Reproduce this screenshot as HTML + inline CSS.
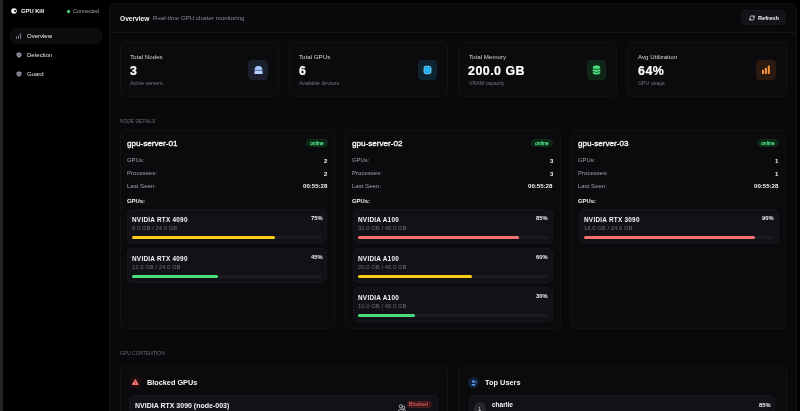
<!DOCTYPE html>
<html><head><meta charset="utf-8"><title>GPU Kill</title>
<style>
html,body{margin:0;padding:0;overflow:hidden;background:#000000;}
body{width:800px;height:411px;font-family:"Liberation Sans", sans-serif;}
#root{position:relative;width:800px;height:411px;overflow:hidden;background:#000000;}
.t{position:absolute;line-height:1;white-space:nowrap;-webkit-font-smoothing:antialiased;will-change:transform;}
.r{position:absolute;}
svg.r{overflow:visible;}
</style></head><body><div id="root">
<div class="r" style="left:0.00px;top:0.00px;width:3.10px;height:411.00px;background:#212327;border-radius:0px;"></div>
<svg class="r" style="left:11px;top:8px" width="6" height="6" viewBox="0 0 6 6"><circle cx="3" cy="3" r="2.8" fill="#f4f4f5"/><circle cx="4.1" cy="3.1" r="1.0" fill="#000"/></svg>
<div class="t" style="left:21.00px;top:8.90px;font-size:5.8px;color:#f4f4f5;font-weight:700;">GPU Kill</div>
<div class="r" style="left:66.50px;top:9.50px;width:3.10px;height:3.10px;background:#4ade80;border-radius:2px;box-shadow:0 0 1.5px #22c55e80;"></div>
<div class="t" style="left:73.00px;top:9.20px;font-size:5.4px;color:#a1a1aa;font-weight:400;">Connected</div>
<div class="r" style="left:10.00px;top:28.30px;width:92.00px;height:16.10px;background:#0c0c0f;border:1px solid #0f0f12;box-sizing:border-box;border-radius:6px;"></div>
<div class="r" style="left:15.7px;top:35.6px;width:1.3px;height:3.1px;background:#7c7c86;border-radius:0.4px"></div><div class="r" style="left:17.75px;top:34.6px;width:1.3px;height:4.1px;background:#7c7c86;border-radius:0.4px"></div><div class="r" style="left:19.8px;top:33.3px;width:1.3px;height:5.4px;background:#7c7c86;border-radius:0.4px"></div>
<div class="t" style="left:27.00px;top:32.81px;font-size:6px;color:#f4f4f5;font-weight:400;">Overview</div>
<svg class="r" style="left:15.6px;top:51.80px" width="6" height="6" viewBox="0 0 6 6"><path d="M3 0.3 L5.5 1.2 L5.5 2.8 C5.5 4.4 4.3 5.3 3 5.8 C1.7 5.3 0.5 4.4 0.5 2.8 L0.5 1.2 Z" fill="#8b8f9a"/><circle cx="3" cy="2.8" r="0.9" fill="#5c6069"/></svg>
<svg class="r" style="left:15.6px;top:70.60px" width="6" height="6" viewBox="0 0 6 6"><path d="M3 0.3 L5.5 1.2 L5.5 2.8 C5.5 4.4 4.3 5.3 3 5.8 C1.7 5.3 0.5 4.4 0.5 2.8 L0.5 1.2 Z" fill="#8b8f9a"/><circle cx="3" cy="2.8" r="0.9" fill="#5c6069"/></svg>
<div class="t" style="left:27.00px;top:52.11px;font-size:6px;color:#e4e4e7;font-weight:400;">Detection</div>
<div class="t" style="left:27.00px;top:70.91px;font-size:6px;color:#e4e4e7;font-weight:400;">Guard</div>
<div class="r" style="left:109.30px;top:3.00px;width:687.90px;height:427.00px;background:#09090c;border:1px solid #111114;box-sizing:border-box;border-radius:5px;"></div>
<div class="t" style="left:119.90px;top:16.32px;font-size:6.6px;color:#f4f4f5;font-weight:700;">Overview</div>
<div class="t" style="left:153.00px;top:15.04px;font-size:6.15px;color:#8a8a93;font-weight:400;">Real-time GPU cluster monitoring</div>
<div class="r" style="left:110.00px;top:32.00px;width:686.00px;height:1.00px;background:#151518;border-radius:0px;"></div>
<div class="r" style="left:741.00px;top:10.30px;width:45.00px;height:15.00px;background:#131317;border:1px solid #18181c;box-sizing:border-box;border-radius:4.5px;"></div>
<svg class="r" style="left:748.6px;top:15.0px" width="6" height="6" viewBox="0 0 24 24" fill="none" stroke="#e4e4e7" stroke-width="3" stroke-linecap="round" stroke-linejoin="round"><path d="M3 12a9 9 0 0 1 9-9 9.75 9.75 0 0 1 6.74 2.74L21 8"/><path d="M21 3v5h-5"/><path d="M21 12a9 9 0 0 1-9 9 9.75 9.75 0 0 1-6.74-2.74L3 16"/><path d="M8 16H3v5"/></svg>
<div class="t" style="left:758.20px;top:15.50px;font-size:5.6px;color:#f4f4f5;font-weight:700;">Refresh</div>
<div class="r" style="left:119.50px;top:42.00px;width:159.25px;height:55.30px;background:#0b0b0e;border:1px solid #131316;box-sizing:border-box;border-radius:6px;"></div>
<div class="t" style="left:130.00px;top:54.31px;font-size:6.2px;color:#d4d4d8;font-weight:400;">Total Nodes</div>
<div class="t" style="left:129.80px;top:64.92px;font-size:12.4px;color:#ffffff;font-weight:700;letter-spacing:0.5px;-webkit-text-stroke:0.2px #fff;">3</div>
<div class="t" style="left:130.00px;top:80.59px;font-size:5.2px;color:#74747d;font-weight:400;">Active servers</div>
<div class="r" style="left:248.45px;top:60.00px;width:19.50px;height:19.60px;background:#1b1f2b;border-radius:4px;"></div>
<svg class="r" style="left:253.70px;top:65.00px" width="9" height="10" viewBox="0 0 9 10"><path d="M0.4 5.4 L1.2 2.6 Q1.8 1 3.4 1 H5.6 Q7.2 1 7.8 2.6 L8.6 5.4 Z" fill="#a3c4fb"/><rect x="0.4" y="6.1" width="8.2" height="3" rx="0.9" fill="#b4d0ff"/></svg>
<div class="r" style="left:288.75px;top:42.00px;width:159.25px;height:55.30px;background:#0b0b0e;border:1px solid #131316;box-sizing:border-box;border-radius:6px;"></div>
<div class="t" style="left:299.25px;top:54.31px;font-size:6.2px;color:#d4d4d8;font-weight:400;">Total GPUs</div>
<div class="t" style="left:299.05px;top:64.92px;font-size:12.4px;color:#ffffff;font-weight:700;letter-spacing:0.5px;-webkit-text-stroke:0.2px #fff;">6</div>
<div class="t" style="left:299.25px;top:80.59px;font-size:5.2px;color:#74747d;font-weight:400;">Available devices</div>
<div class="r" style="left:417.70px;top:60.00px;width:19.50px;height:19.60px;background:#0f2230;border-radius:4px;"></div>
<svg class="r" style="left:422.95px;top:65.00px" width="9" height="10" viewBox="0 0 9 10"><rect x="1.1" y="1.3" width="6.8" height="7.4" rx="1.7" fill="#0ea5e9" stroke="#7dd3fc" stroke-width="1.0"/><rect x="3.1" y="3.4" width="2.8" height="3.2" rx="0.6" fill="#38bdf8"/></svg>
<div class="r" style="left:458.00px;top:42.00px;width:159.25px;height:55.30px;background:#0b0b0e;border:1px solid #131316;box-sizing:border-box;border-radius:6px;"></div>
<div class="t" style="left:468.50px;top:54.31px;font-size:6.2px;color:#d4d4d8;font-weight:400;">Total Memory</div>
<div class="t" style="left:468.30px;top:64.92px;font-size:12.4px;color:#ffffff;font-weight:700;letter-spacing:0.5px;-webkit-text-stroke:0.2px #fff;">200.0 GB</div>
<div class="t" style="left:468.50px;top:80.59px;font-size:5.2px;color:#74747d;font-weight:400;">VRAM capacity</div>
<div class="r" style="left:586.95px;top:60.00px;width:19.50px;height:19.60px;background:#0f2618;border-radius:4px;"></div>
<svg class="r" style="left:592.20px;top:65.00px" width="9" height="10" viewBox="0 0 9 10"><rect x="0.8" y="0.4" width="7.4" height="9.2" rx="2.4" fill="#4ade80"/><path d="M0.8 3.6 Q4.5 5.6 8.2 3.6" stroke="#0f3d1f" stroke-width="0.9" fill="none"/><path d="M0.8 6.5 Q4.5 8.4 8.2 6.5" stroke="#0f3d1f" stroke-width="0.8" fill="none"/></svg>
<div class="r" style="left:627.25px;top:42.00px;width:159.25px;height:55.30px;background:#0b0b0e;border:1px solid #131316;box-sizing:border-box;border-radius:6px;"></div>
<div class="t" style="left:637.75px;top:54.31px;font-size:6.2px;color:#d4d4d8;font-weight:400;">Avg Utilization</div>
<div class="t" style="left:637.55px;top:64.92px;font-size:12.4px;color:#ffffff;font-weight:700;letter-spacing:0.5px;-webkit-text-stroke:0.2px #fff;">64%</div>
<div class="t" style="left:637.75px;top:80.59px;font-size:5.2px;color:#74747d;font-weight:400;">GPU usage</div>
<div class="r" style="left:756.20px;top:60.00px;width:19.50px;height:19.60px;background:#2a1a10;border-radius:4px;"></div>
<svg class="r" style="left:761.45px;top:65.00px" width="9" height="10" viewBox="0 0 9 10"><rect x="1" y="4.8" width="2" height="4.2" rx="0.5" fill="#fb923c"/><rect x="3.9" y="2.7" width="2" height="6.3" rx="0.5" fill="#fb923c"/><rect x="6.8" y="0.6" width="2" height="8.4" rx="0.5" fill="#fb923c"/></svg>
<div class="r" style="left:110.50px;top:107.00px;width:685.50px;height:1.00px;background:#0d0d10;border-radius:0px;"></div>
<div class="r" style="left:110.50px;top:337.80px;width:685.50px;height:1.00px;background:#0d0d10;border-radius:0px;"></div>
<div class="t" style="left:119.80px;top:119.61px;font-size:4.95px;color:#6b6b74;font-weight:400;letter-spacing:-0.05px;">NODE DETAILS</div>
<div class="r" style="left:119.50px;top:130.00px;width:215.67px;height:199.00px;background:#0b0b0e;border:1px solid #131316;box-sizing:border-box;border-radius:6px;"></div>
<div class="t" style="left:126.50px;top:140.10px;font-size:8.1px;color:#f4f4f5;font-weight:400;-webkit-text-stroke:0.35px #f4f4f5;">gpu-server-01</div>
<div class="r" style="left:305.77px;top:139.20px;width:22.00px;height:8.10px;background:#0c2415;border:1px solid #112e1a;box-sizing:border-box;border-radius:4px;"></div>
<div class="t" style="left:309.77px;top:140.94px;font-size:5.1px;color:#4ade80;font-weight:400;-webkit-text-stroke:0.25px #4ade80;">online</div>
<div class="t" style="left:126.70px;top:158.36px;font-size:5.9px;color:#a1a1aa;font-weight:400;">GPUs:</div>
<div class="t" style="right:472.83px;top:158.31px;font-size:6.0px;color:#f4f4f5;font-weight:700;">2</div>
<div class="t" style="left:126.70px;top:170.48px;font-size:6.05px;color:#a1a1aa;font-weight:400;">Processes:</div>
<div class="t" style="right:472.83px;top:170.51px;font-size:6.0px;color:#f4f4f5;font-weight:700;">2</div>
<div class="t" style="left:126.70px;top:183.28px;font-size:6.05px;color:#a1a1aa;font-weight:400;">Last Seen:</div>
<div class="t" style="right:472.83px;top:183.26px;font-size:6.1px;color:#f4f4f5;font-weight:700;">00:55:28</div>
<div class="t" style="left:126.70px;top:198.56px;font-size:5.9px;color:#f4f4f5;font-weight:700;">GPUs:</div>
<div class="r" style="left:127.30px;top:208.70px;width:199.97px;height:35.20px;background:#121216;border:1px solid #17171b;box-sizing:border-box;border-radius:5px;"></div>
<div class="t" style="left:132.20px;top:217.22px;font-size:6.4px;color:#f4f4f5;font-weight:700;letter-spacing:0.25px;">NVIDIA RTX 4090</div>
<div class="t" style="left:132.20px;top:225.53px;font-size:5.95px;color:#6a6a73;font-weight:400;">8.0 GB / 24.0 GB</div>
<div class="t" style="right:477.63px;top:215.70px;font-size:5.8px;color:#f4f4f5;font-weight:700;">75%</div>
<div class="r" style="left:132.20px;top:235.60px;width:190.17px;height:3.00px;background:#1a1a1f;border-radius:2px;"></div>
<div class="r" style="left:132.20px;top:235.60px;width:142.63px;height:3.00px;background:#facc15;border-radius:2px;"></div>
<div class="r" style="left:127.30px;top:247.80px;width:199.97px;height:35.20px;background:#121216;border:1px solid #17171b;box-sizing:border-box;border-radius:5px;"></div>
<div class="t" style="left:132.20px;top:256.32px;font-size:6.4px;color:#f4f4f5;font-weight:700;letter-spacing:0.25px;">NVIDIA RTX 4090</div>
<div class="t" style="left:132.20px;top:264.63px;font-size:5.95px;color:#6a6a73;font-weight:400;">12.0 GB / 24.0 GB</div>
<div class="t" style="right:477.63px;top:254.80px;font-size:5.8px;color:#f4f4f5;font-weight:700;">45%</div>
<div class="r" style="left:132.20px;top:274.70px;width:190.17px;height:3.00px;background:#1a1a1f;border-radius:2px;"></div>
<div class="r" style="left:132.20px;top:274.70px;width:85.57px;height:3.00px;background:#4ade80;border-radius:2px;"></div>
<div class="r" style="left:345.17px;top:130.00px;width:215.67px;height:199.00px;background:#0b0b0e;border:1px solid #131316;box-sizing:border-box;border-radius:6px;"></div>
<div class="t" style="left:352.17px;top:140.10px;font-size:8.1px;color:#f4f4f5;font-weight:400;-webkit-text-stroke:0.35px #f4f4f5;">gpu-server-02</div>
<div class="r" style="left:531.43px;top:139.20px;width:22.00px;height:8.10px;background:#0c2415;border:1px solid #112e1a;box-sizing:border-box;border-radius:4px;"></div>
<div class="t" style="left:535.43px;top:140.94px;font-size:5.1px;color:#4ade80;font-weight:400;-webkit-text-stroke:0.25px #4ade80;">online</div>
<div class="t" style="left:352.37px;top:158.36px;font-size:5.9px;color:#a1a1aa;font-weight:400;">GPUs:</div>
<div class="t" style="right:247.17px;top:158.31px;font-size:6.0px;color:#f4f4f5;font-weight:700;">3</div>
<div class="t" style="left:352.37px;top:170.48px;font-size:6.05px;color:#a1a1aa;font-weight:400;">Processes:</div>
<div class="t" style="right:247.17px;top:170.51px;font-size:6.0px;color:#f4f4f5;font-weight:700;">3</div>
<div class="t" style="left:352.37px;top:183.28px;font-size:6.05px;color:#a1a1aa;font-weight:400;">Last Seen:</div>
<div class="t" style="right:247.17px;top:183.26px;font-size:6.1px;color:#f4f4f5;font-weight:700;">00:55:28</div>
<div class="t" style="left:352.37px;top:198.56px;font-size:5.9px;color:#f4f4f5;font-weight:700;">GPUs:</div>
<div class="r" style="left:352.97px;top:208.70px;width:199.97px;height:35.20px;background:#121216;border:1px solid #17171b;box-sizing:border-box;border-radius:5px;"></div>
<div class="t" style="left:357.87px;top:217.22px;font-size:6.4px;color:#f4f4f5;font-weight:700;letter-spacing:0.25px;">NVIDIA A100</div>
<div class="t" style="left:357.87px;top:225.53px;font-size:5.95px;color:#6a6a73;font-weight:400;">32.0 GB / 40.0 GB</div>
<div class="t" style="right:251.97px;top:215.70px;font-size:5.8px;color:#f4f4f5;font-weight:700;">85%</div>
<div class="r" style="left:357.87px;top:235.60px;width:190.17px;height:3.00px;background:#1a1a1f;border-radius:2px;"></div>
<div class="r" style="left:357.87px;top:235.60px;width:161.64px;height:3.00px;background:#f87171;border-radius:2px;"></div>
<div class="r" style="left:352.97px;top:247.80px;width:199.97px;height:35.20px;background:#121216;border:1px solid #17171b;box-sizing:border-box;border-radius:5px;"></div>
<div class="t" style="left:357.87px;top:256.32px;font-size:6.4px;color:#f4f4f5;font-weight:700;letter-spacing:0.25px;">NVIDIA A100</div>
<div class="t" style="left:357.87px;top:264.63px;font-size:5.95px;color:#6a6a73;font-weight:400;">20.0 GB / 40.0 GB</div>
<div class="t" style="right:251.97px;top:254.80px;font-size:5.8px;color:#f4f4f5;font-weight:700;">60%</div>
<div class="r" style="left:357.87px;top:274.70px;width:190.17px;height:3.00px;background:#1a1a1f;border-radius:2px;"></div>
<div class="r" style="left:357.87px;top:274.70px;width:114.10px;height:3.00px;background:#facc15;border-radius:2px;"></div>
<div class="r" style="left:352.97px;top:286.90px;width:199.97px;height:35.20px;background:#121216;border:1px solid #17171b;box-sizing:border-box;border-radius:5px;"></div>
<div class="t" style="left:357.87px;top:295.42px;font-size:6.4px;color:#f4f4f5;font-weight:700;letter-spacing:0.25px;">NVIDIA A100</div>
<div class="t" style="left:357.87px;top:303.73px;font-size:5.95px;color:#6a6a73;font-weight:400;">10.0 GB / 40.0 GB</div>
<div class="t" style="right:251.97px;top:293.90px;font-size:5.8px;color:#f4f4f5;font-weight:700;">30%</div>
<div class="r" style="left:357.87px;top:313.80px;width:190.17px;height:3.00px;background:#1a1a1f;border-radius:2px;"></div>
<div class="r" style="left:357.87px;top:313.80px;width:57.05px;height:3.00px;background:#4ade80;border-radius:2px;"></div>
<div class="r" style="left:570.83px;top:130.00px;width:215.67px;height:199.00px;background:#0b0b0e;border:1px solid #131316;box-sizing:border-box;border-radius:6px;"></div>
<div class="t" style="left:577.83px;top:140.10px;font-size:8.1px;color:#f4f4f5;font-weight:400;-webkit-text-stroke:0.35px #f4f4f5;">gpu-server-03</div>
<div class="r" style="left:757.10px;top:139.20px;width:22.00px;height:8.10px;background:#0c2415;border:1px solid #112e1a;box-sizing:border-box;border-radius:4px;"></div>
<div class="t" style="left:761.10px;top:140.94px;font-size:5.1px;color:#4ade80;font-weight:400;-webkit-text-stroke:0.25px #4ade80;">online</div>
<div class="t" style="left:578.03px;top:158.36px;font-size:5.9px;color:#a1a1aa;font-weight:400;">GPUs:</div>
<div class="t" style="right:21.50px;top:158.31px;font-size:6.0px;color:#f4f4f5;font-weight:700;">1</div>
<div class="t" style="left:578.03px;top:170.48px;font-size:6.05px;color:#a1a1aa;font-weight:400;">Processes:</div>
<div class="t" style="right:21.50px;top:170.51px;font-size:6.0px;color:#f4f4f5;font-weight:700;">1</div>
<div class="t" style="left:578.03px;top:183.28px;font-size:6.05px;color:#a1a1aa;font-weight:400;">Last Seen:</div>
<div class="t" style="right:21.50px;top:183.26px;font-size:6.1px;color:#f4f4f5;font-weight:700;">00:55:28</div>
<div class="t" style="left:578.03px;top:198.56px;font-size:5.9px;color:#f4f4f5;font-weight:700;">GPUs:</div>
<div class="r" style="left:578.63px;top:208.70px;width:199.97px;height:35.20px;background:#121216;border:1px solid #17171b;box-sizing:border-box;border-radius:5px;"></div>
<div class="t" style="left:583.53px;top:217.22px;font-size:6.4px;color:#f4f4f5;font-weight:700;letter-spacing:0.25px;">NVIDIA RTX 3090</div>
<div class="t" style="left:583.53px;top:225.53px;font-size:5.95px;color:#6a6a73;font-weight:400;">18.0 GB / 24.0 GB</div>
<div class="t" style="right:26.30px;top:215.70px;font-size:5.8px;color:#f4f4f5;font-weight:700;">90%</div>
<div class="r" style="left:583.53px;top:235.60px;width:190.17px;height:3.00px;background:#1a1a1f;border-radius:2px;"></div>
<div class="r" style="left:583.53px;top:235.60px;width:171.15px;height:3.00px;background:#f87171;border-radius:2px;"></div>
<div class="t" style="left:119.80px;top:351.61px;font-size:4.95px;color:#6b6b74;font-weight:400;">GPU CONTENTION</div>
<div class="r" style="left:119.50px;top:366.00px;width:328.50px;height:64.00px;background:#0b0b0e;border:1px solid #131316;box-sizing:border-box;border-radius:5px;"></div>
<div class="r" style="left:129.80px;top:377.00px;width:11.40px;height:11.20px;background:#1e0d10;border-radius:3.5px;"></div>
<svg class="r" style="left:132.40px;top:379.2px" width="6.6" height="6" viewBox="0 0 6.6 6"><path d="M3.3 0.7 L6.0 5.4 H0.6 Z" fill="#f87171" stroke="#f87171" stroke-width="1.1" stroke-linejoin="round"/><rect x="3.0" y="2.5" width="0.6" height="1.4" fill="#7f1d1d"/><rect x="3.0" y="4.3" width="0.6" height="0.5" fill="#7f1d1d"/></svg>
<div class="t" style="left:146.80px;top:379.08px;font-size:7.3px;color:#f4f4f5;font-weight:700;">Blocked GPUs</div>
<div class="r" style="left:129.30px;top:395.30px;width:308.70px;height:34.70px;background:#121216;border:1px solid #17171b;box-sizing:border-box;border-radius:4px;"></div>
<div class="t" style="left:135.10px;top:401.83px;font-size:7.0px;color:#f4f4f5;font-weight:700;">NVIDIA RTX 3090 (node-003)</div>
<div class="r" style="left:406.80px;top:400.60px;width:25.40px;height:7.60px;background:#3a1418;border:1px solid #4a1c20;box-sizing:border-box;border-radius:3.5px;"></div>
<div class="t" style="left:409.00px;top:401.85px;font-size:5.3px;color:#f87171;font-weight:400;">Blocked</div>
<svg class="r" style="left:397.5px;top:404.3px" width="8" height="7" viewBox="0 0 8 7" fill="none" stroke="#c4c4c8" stroke-width="0.85"><circle cx="2.9" cy="2.4" r="1.6"/><path d="M0.3 6.9 C0.3 5 5.5 5 5.5 6.9"/><circle cx="5.6" cy="3.4" r="1.3"/><path d="M5.2 5.3 C6.6 5.3 7.6 5.9 7.6 6.9"/></svg>
<div class="r" style="left:458.00px;top:366.00px;width:328.50px;height:64.00px;background:#0b0b0e;border:1px solid #131316;box-sizing:border-box;border-radius:5px;"></div>
<div class="r" style="left:468.30px;top:377.2px;width:11px;height:11px;border-radius:50%;background:#10223a"></div>
<svg class="r" style="left:470.80px;top:379.7px" width="6" height="6" viewBox="0 0 6 6"><circle cx="2.4" cy="1.6" r="1.3" fill="#60a5fa"/><path d="M0.2 5.6 C0.2 3.6 4.6 3.6 4.6 5.6 Z" fill="#60a5fa"/><rect x="4.4" y="1.4" width="1.4" height="0.6" fill="#60a5fa"/><rect x="4.4" y="2.7" width="1.4" height="0.6" fill="#60a5fa"/></svg>
<div class="t" style="left:484.80px;top:379.03px;font-size:7.4px;color:#f4f4f5;font-weight:700;">Top Users</div>
<div class="r" style="left:468.50px;top:395.20px;width:306.50px;height:34.80px;background:#121216;border:1px solid #17171b;box-sizing:border-box;border-radius:4px;"></div>
<div class="r" style="left:473.80px;top:402.2px;width:12.4px;height:12.4px;border-radius:50%;background:#26262d"></div>
<div class="t" style="left:478.00px;top:405.91px;font-size:6.0px;color:#d4d4d8;font-weight:400;">1</div>
<div class="t" style="left:492.40px;top:401.57px;font-size:6.5px;color:#f4f4f5;font-weight:700;">charlie</div>
<div class="t" style="right:29.50px;top:402.90px;font-size:5.8px;color:#f4f4f5;font-weight:700;">85%</div>
</div></body></html>
